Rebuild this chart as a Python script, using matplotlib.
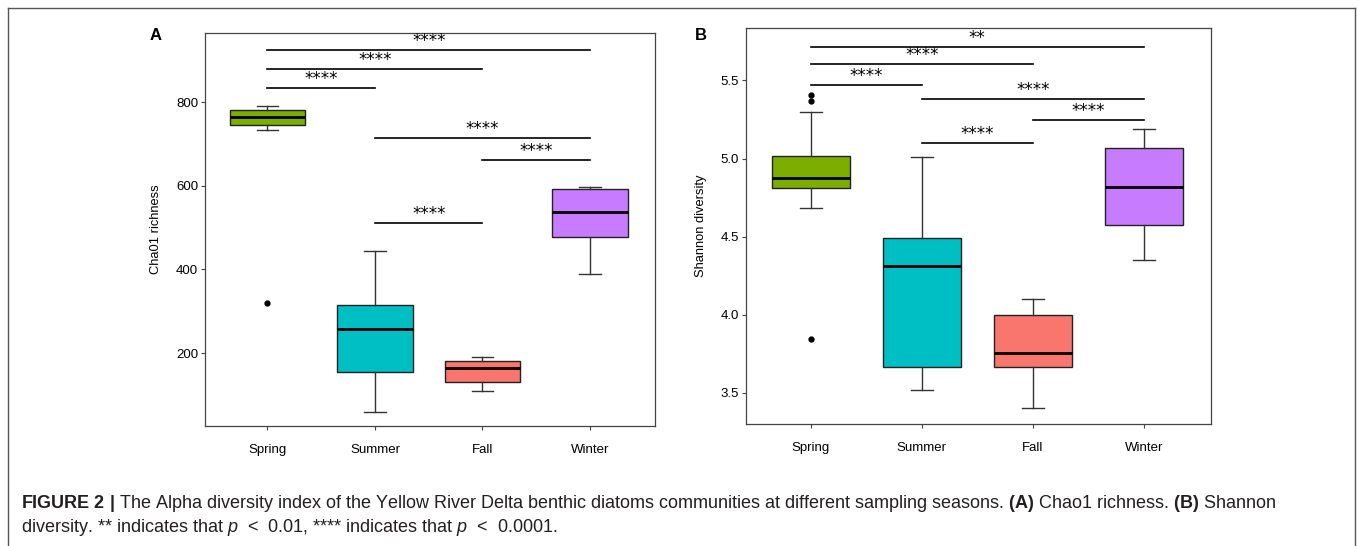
import numpy as np
import matplotlib
matplotlib.use("Agg")
from matplotlib import pyplot as plt
from matplotlib.lines import Line2D

plt.rcParams['font.family'] = ['Liberation Sans', 'DejaVu Sans']
plt.rcParams['mathtext.fontset'] = 'custom'
plt.rcParams['mathtext.rm'] = 'Liberation Sans'
plt.rcParams['mathtext.bf'] = 'Liberation Sans:bold'
plt.rcParams['mathtext.it'] = 'Liberation Sans:italic'

# 数据（从图上读出来的）
seasons = ["Spring", "Summer", "Fall", "Winter"]
colors = ["#7CAE00", "#00BFC4", "#F8766D", "#C77CFF"]

chao_whislo = [734, 60, 110, 388]
chao_q1 = [745, 156, 131, 477]
chao_med = [765, 258, 165, 537]
chao_q3 = [782, 314, 182, 592]
chao_whishi = [790, 444, 190, 596]
chao_fliers = [[321], [], [], []]
chao_sig = [(1, 4, 925, "****"), (1, 3, 879, "****"), (1, 2, 834, "****"),
            (2, 4, 713, "****"), (3, 4, 662, "****"), (2, 3, 510, "****")]

shan_whislo = [4.683, 3.515, 3.404, 4.349]
shan_q1 = [4.81, 3.666, 3.666, 4.574]
shan_med = [4.877, 4.315, 3.753, 4.817]
shan_q3 = [5.017, 4.489, 3.996, 5.07]
shan_whishi = [5.298, 5.013, 4.102, 5.187]
shan_fliers = [[5.404, 5.368, 3.843], [], [], []]
shan_sig = [(1, 4, 5.717, "**"), (1, 3, 5.604, "****"), (1, 2, 5.468, "****"),
            (2, 4, 5.379, "****"), (3, 4, 5.247, "****"), (2, 3, 5.10, "****")]


def draw_panel(ax, lo, q1, med, q3, hi, fliers, sig, ylabel, ylim, yticks, yticklabels):
    stats = []
    for i in range(len(seasons)):
        stats.append(dict(whislo=lo[i], q1=q1[i], med=med[i], q3=q3[i],
                          whishi=hi[i], fliers=fliers[i]))
    bp = ax.bxp(stats, positions=range(1, 5), widths=0.7, capwidths=0.2,
                patch_artist=True, showfliers=True,
                boxprops=dict(linewidth=1.0, edgecolor='#222222'),
                whiskerprops=dict(linewidth=1.0, color='#333333'),
                capprops=dict(linewidth=1.0, color='#333333'),
                medianprops=dict(linewidth=2.0, color='black'),
                flierprops=dict(marker='o', markersize=3.5, markerfacecolor='black',
                                markeredgecolor='black'))
    for patch, c in zip(bp['boxes'], colors):
        patch.set_facecolor(c)

    # 显著性标记
    for a, b, y, s in sig:
        ax.plot([a, b], [y, y], color='black', linewidth=1.2)
        ax.annotate(s, xy=((a + b) / 2, y), xytext=(0, 0), textcoords='offset points',
                    ha='center', va='bottom', fontsize=12, family='DejaVu Sans')

    ax.set_xlim(0.42, 4.6)
    ax.set_ylim(*ylim)
    ax.set_xticks(range(1, 5))
    ax.set_xticklabels(seasons, fontsize=9.5)
    ax.set_yticks(yticks)
    ax.set_yticklabels(yticklabels, fontsize=9.5)
    ax.tick_params(axis='x', length=3, pad=10, color='#444444')
    ax.tick_params(axis='y', length=3, pad=2, color='#444444')
    ax.set_ylabel(ylabel, fontsize=9.3, labelpad=10)
    for sp in ax.spines.values():
        sp.set_color('#444444')
        sp.set_linewidth(0.9)


fig = plt.figure(figsize=(13.58, 5.46), dpi=100)

axA = fig.add_axes([0.151, 0.2198, 0.331, 0.7198])
draw_panel(axA, chao_whislo, chao_q1, chao_med, chao_q3, chao_whishi, chao_fliers,
           chao_sig, "Cha01 richness", (26, 965), [200, 400, 600, 800],
           ["200", "400", "600", "800"])

axB = fig.add_axes([0.5495, 0.2234, 0.342, 0.7253])
draw_panel(axB, shan_whislo, shan_q1, shan_med, shan_q3, shan_whishi, shan_fliers,
           shan_sig, "Shannon diversity", (3.30, 5.836), [3.5, 4.0, 4.5, 5.0, 5.5],
           ["3.5", "4.0", "4.5", "5.0", "5.5"])

fig.text(150 / 1358, 1 - 36 / 546, "A", fontsize=12, fontweight='bold', va='center')
fig.text(695 / 1358, 1 - 36 / 546, "B", fontsize=12, fontweight='bold', va='center')

# 外框
W, H = 1358, 546
for (x0, y0, x1, y1) in [(8, 8, 1355, 8), (8, 8, 8, 546), (1355, 8, 1355, 546)]:
    fig.add_artist(Line2D([x0 / W, x1 / W], [1 - y0 / H, 1 - y1 / H],
                          color='#555555', linewidth=1.0))

# 图注
line1 = (r"$\bf{FIGURE\ 2\ |}$ The Alpha diversity index of the Yellow River Delta benthic "
         r"diatoms communities at different sampling seasons. $\bf{(A)}$ Chao1 richness. "
         r"$\bf{(B)}$ Shannon")
line2 = r"diversity. ** indicates that $p$  <  0.01, **** indicates that $p$  <  0.0001."
fig.text(21 / W, 1 - 503 / H, line1, fontsize=13, va='center', color='#231f20')
fig.text(21 / W, 1 - 527 / H, line2, fontsize=13, va='center', color='#231f20')

fig.savefig("out.png", dpi=100)
